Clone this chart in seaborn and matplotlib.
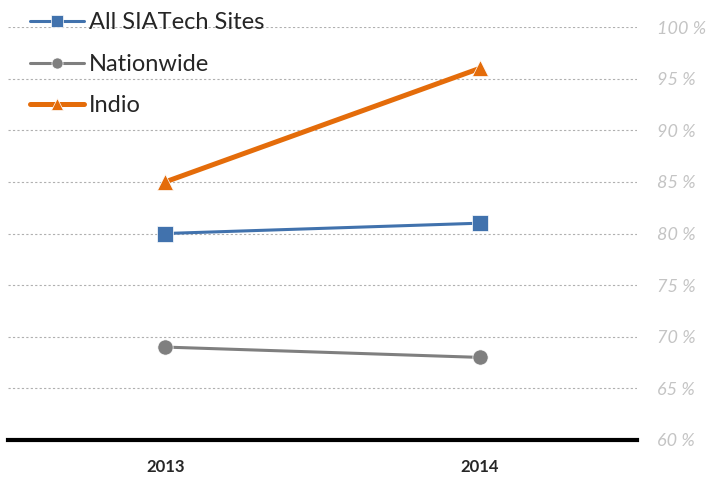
import pandas as pd
import matplotlib.pyplot as plt
import seaborn as sns
from matplotlib.ticker import FuncFormatter

years = ['2013', '2014']
series_names = ['All SIATech Sites', 'Nationwide', 'Indio']
siatech = [80, 81]
nationwide = [69, 68]
indio = [85, 96]

colors = {'All SIATech Sites': '#4172ad', 'Nationwide': '#7f7f7f', 'Indio': '#e46c0a'}
markers = {'All SIATech Sites': 's', 'Nationwide': 'o', 'Indio': '^'}
widths = {'All SIATech Sites': 2.2, 'Nationwide': 2.2, 'Indio': 3.6}
msizes = {'All SIATech Sites': 12, 'Nationwide': 11, 'Indio': 11}

df = pd.DataFrame({
    'year': years * 3,
    'value': siatech + nationwide + indio,
    'series': [s for s in series_names for _ in years],
})

sns.set_style('white')
plt.rcParams['font.family'] = ['Lato', 'DejaVu Sans']

fig = plt.figure(figsize=(7.07, 4.78), dpi=100)
ax = fig.add_axes([0.0113, 0.0795, 0.89, 0.864])

for name in series_names:
    sub = df[df['series'] == name]
    sns.lineplot(data=sub, x='year', y='value', ax=ax, color=colors[name],
                 marker=markers[name], markersize=msizes[name], linewidth=widths[name],
                 markeredgecolor='white', markeredgewidth=0.5, label=name, sort=False)

ax.set_xlim(-0.5, 1.5)
ax.set_ylim(60, 100)
ax.set_yticks(range(60, 101, 5))
ax.yaxis.set_major_formatter(FuncFormatter(lambda v, p: f'{int(v)} %'))
ax.yaxis.tick_right()
ax.tick_params(axis='y', length=0, pad=14, labelsize=13, labelcolor='#c4c4c4')
for lab in ax.get_yticklabels():
    lab.set_fontstyle('italic')
ax.tick_params(axis='x', length=0, pad=14, labelsize=12)
for lab in ax.get_xticklabels():
    lab.set_fontweight('bold')
ax.set_xlabel('')
ax.set_ylabel('')

ax.grid(axis='y', color='#b0b0b0', linestyle=(0, (2, 2)), linewidth=0.8)
ax.grid(axis='x', visible=False)
for s in ['top', 'left', 'right']:
    ax.spines[s].set_visible(False)
ax.spines['bottom'].set_color('black')
ax.spines['bottom'].set_linewidth(3)

leg = ax.legend(loc='upper left', bbox_to_anchor=(0.02, 1.058), frameon=False,
                fontsize=17, handlelength=2.3, handletextpad=0.2, labelspacing=0.86,
                borderaxespad=0)
for h in leg.legend_handles:
    h.set_markersize(8)

fig.savefig('out.png', dpi=100)
